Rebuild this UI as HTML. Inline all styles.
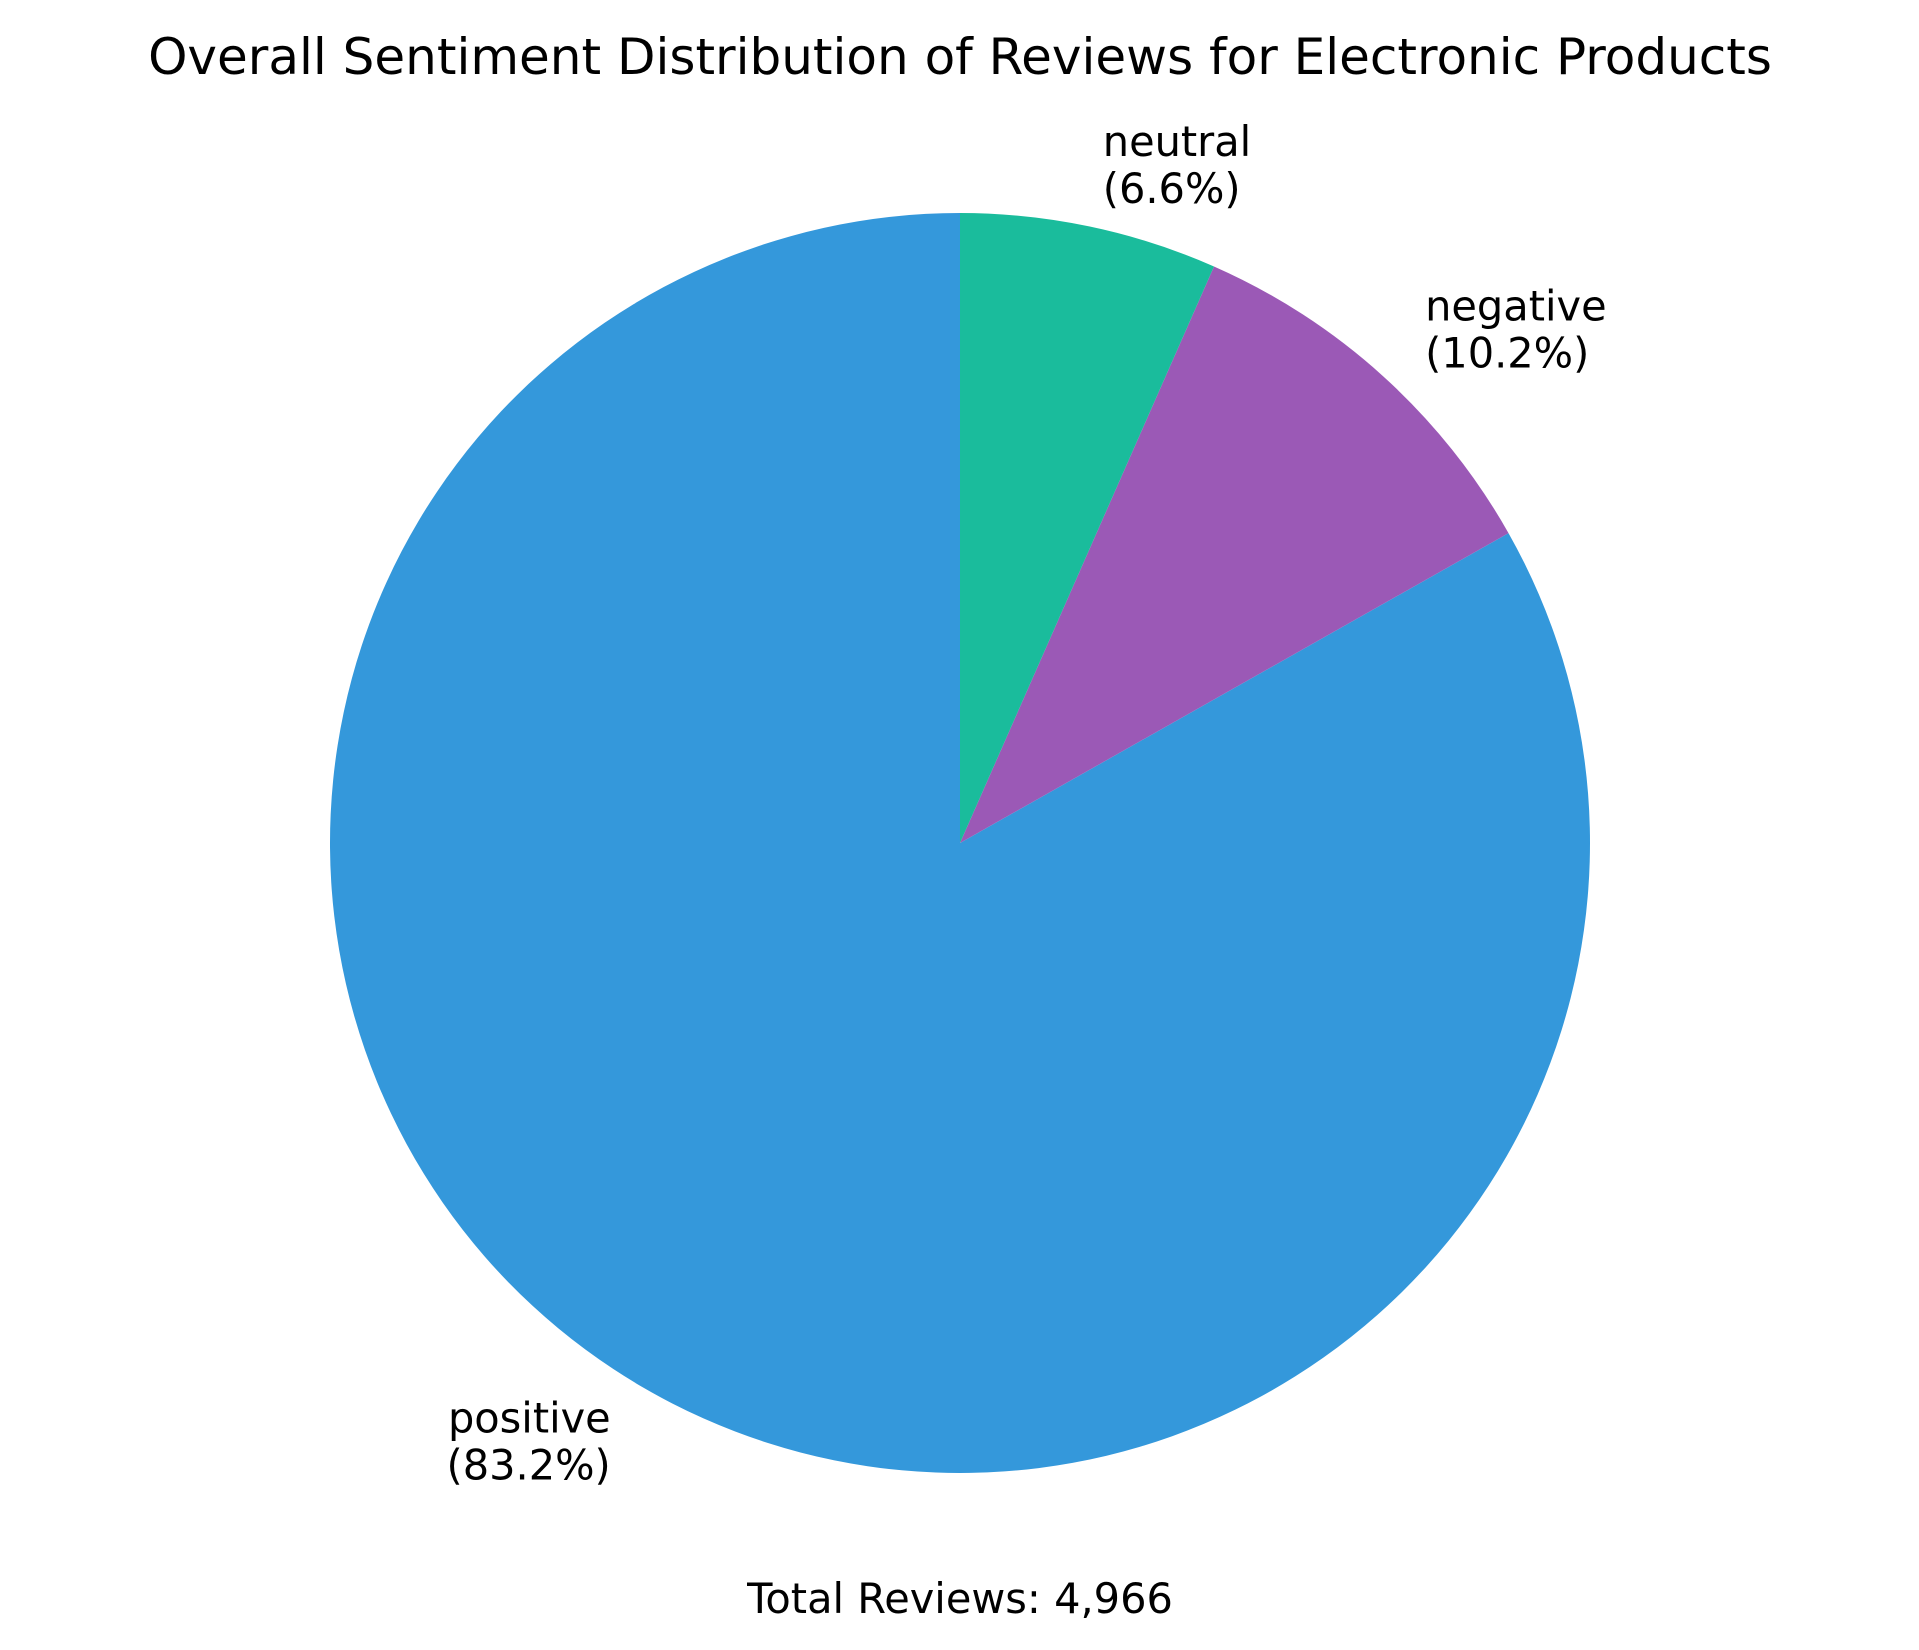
<!DOCTYPE html>
<html><head><meta charset="utf-8"><style>
html,body{margin:0;padding:0;background:#fff;}
svg{display:block;font-family:"DejaVu Sans","Liberation Sans",sans-serif;}
</style></head><body>
<svg id="chart" width="1919" height="1650" viewBox="0 0 1919 1650" xmlns="http://www.w3.org/2000/svg">
<rect width="1919" height="1650" fill="#fff"/>
<text x="960" y="74" text-anchor="middle" font-size="50" fill="#000">Overall Sentiment Distribution of Reviews for Electronic Products</text>
<g id="slices"></g>
<g id="labels"></g>
<text id="total" x="960" y="1613" text-anchor="middle" font-size="41.5" fill="#000"></text>
</svg>
<script>
const categories = ["positive", "negative", "neutral"];
const counts = [4131, 507, 328];
const colors = ["#3498db", "#9b59b6", "#1abc9c"];

const NS = "http://www.w3.org/2000/svg";
const cx = 960, cy = 843, R = 630;
const total = counts.reduce((a, b) => a + b, 0);
const slicesG = document.getElementById("slices");
const labelsG = document.getElementById("labels");
function pt(r, deg) { const a = deg * Math.PI / 180; return [cx + r * Math.cos(a), cy - r * Math.sin(a)]; }
let start = 90;
counts.forEach((c, i) => {
  const sweep = c / total * 360;
  const end = start + sweep;
  const p1 = pt(R, start), p2 = pt(R, end);
  const large = sweep > 180 ? 1 : 0;
  const path = document.createElementNS(NS, "path");
  path.setAttribute("d", `M${cx},${cy} L${p1[0]},${p1[1]} A${R},${R} 0 ${large} 0 ${p2[0]},${p2[1]} Z`);
  path.setAttribute("fill", colors[i]);
  
  
  slicesG.appendChild(path);
  const mid = start + sweep / 2;
  const lp = pt(R * 1.1, mid);
  const t = document.createElementNS(NS, "text");
  t.setAttribute("font-size", "41.5");
  t.setAttribute("fill", "#000");
  t.setAttribute("text-anchor", lp[0] >= cx ? "start" : "end");
  
  
  const s1 = document.createElementNS(NS, "tspan");
  s1.setAttribute("x", lp[0]); s1.setAttribute("y", lp[1] - 9);
  s1.textContent = categories[i];
  const s2 = document.createElementNS(NS, "tspan");
  s2.setAttribute("x", lp[0]); s2.setAttribute("y", lp[1] + 38);
  s2.textContent = "(" + (c / total * 100).toFixed(1) + "%)";
  t.appendChild(s1); t.appendChild(s2);
  labelsG.appendChild(t);
  start = end;
});
document.getElementById("total").textContent = "Total Reviews: " + total.toLocaleString("en-US");
</script>
</body></html>
